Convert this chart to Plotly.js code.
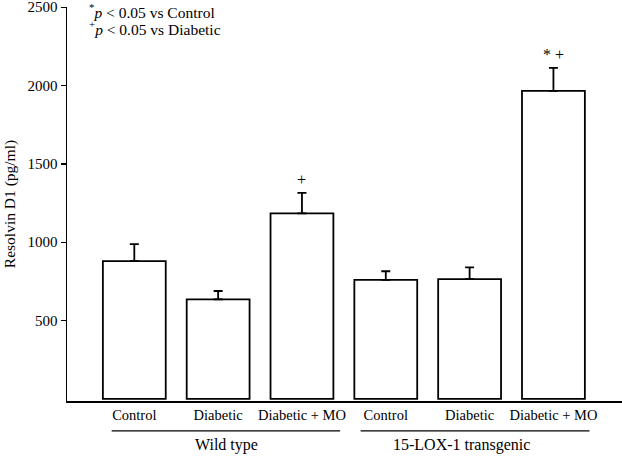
<!DOCTYPE html>
<html>
<head>
<meta charset="utf-8">
<script src="https://cdn.plot.ly/plotly-3.0.1.min.js"></script>
<style>html,body{margin:0;padding:0;background:#fff;}#chart{width:622px;height:456px;}</style>
</head>
<body>
<div id="chart"></div>
<script>
// Data
const barIds = ["wt_control", "wt_diabetic", "wt_diabetic_mo", "tg_control", "tg_diabetic", "tg_diabetic_mo"];
const tickLabels = ["Control", "Diabetic", "Diabetic + MO", "Control", "Diabetic", "Diabetic + MO"];
const means = [880, 636, 1184, 760, 765, 1966];
const errors = [108, 53, 131, 55, 75, 147];
const sigMarks = ["", "", "+", "", "", "* +"];
const groupNames = ["Wild type", "15-LOX-1 transgenic"];
const legendLines = ["<sup>*</sup><i>p</i> &lt; 0.05 vs Control", "<sup>+</sup><i>p</i> &lt; 0.05 vs Diabetic"];
const yTicks = [500, 1000, 1500, 2000, 2500];

const FONT = "Liberation Serif, Times New Roman, serif";

const trace = {
  type: "bar",
  x: barIds,
  y: means,
  width: 0.75,
  marker: {color: "#ffffff", line: {color: "#000000", width: 1.8}},
  error_y: {type: "data", symmetric: false, array: errors, arrayminus: errors.map(() => 0),
            visible: true, color: "#000000", thickness: 1.8, width: 4.5},
  hoverinfo: "none"
};

const annotations = [];
barIds.forEach((id, i) => {
  if (sigMarks[i]) {
    annotations.push({
      x: id, y: means[i] + errors[i], xref: "x", yref: "y",
      text: sigMarks[i], showarrow: false, yanchor: "bottom", yshift: 3,
      font: {family: FONT, size: 16, color: "#000"}
    });
  }
});
// group labels
annotations.push({x: 1.1, y: -0.112, xref: "x", yref: "paper", text: groupNames[0], showarrow: false,
  yanchor: "middle", font: {family: FONT, size: 16, color: "#000"}});
annotations.push({x: 3.9, y: -0.112, xref: "x", yref: "paper", text: groupNames[1], showarrow: false,
  yanchor: "middle", font: {family: FONT, size: 16, color: "#000"}});
// significance legend
legendLines.forEach((t, i) => {
  annotations.push({xref: "paper", yref: "paper", x: 0.036, y: 0.99 - i * 0.043, xanchor: "left", yanchor: "middle",
    align: "left", text: t, showarrow: false, font: {family: FONT, size: 15.5, color: "#000"}});
});

const shapes = [
  {type: "line", xref: "x", yref: "paper", x0: -0.27, x1: 2.455, y0: -0.076, y1: -0.076, line: {color: "#000", width: 1.3}},
  {type: "line", xref: "x", yref: "paper", x0: 2.70, x1: 5.43, y0: -0.076, y1: -0.076, line: {color: "#000", width: 1.3}}
];

const layout = {
  width: 622, height: 456,
  margin: {l: 67, r: 0, t: 7, b: 55},
  paper_bgcolor: "#fff", plot_bgcolor: "#fff",
  showlegend: false,
  font: {family: FONT, size: 14, color: "#000"},
  xaxis: {
    type: "category", range: [-0.803, 5.818],
    tickvals: barIds, ticktext: tickLabels,
    showline: true, linecolor: "#000", linewidth: 1.5,
    ticks: "", showgrid: false, zeroline: false,
    tickfont: {family: FONT, size: 14.5, color: "#000"}
  },
  yaxis: {
    range: [-13, 2501], tickvals: yTicks,
    showline: true, linecolor: "#000", linewidth: 1.5,
    ticks: "outside", ticklen: 5, tickwidth: 1.3, tickcolor: "#000",
    ticklabeloverflow: "allow",
    showgrid: false, zeroline: false,
    tickfont: {family: FONT, size: 15, color: "#000"},
    title: {text: "Resolvin D1 (pg/ml)", font: {family: FONT, size: 15.5, color: "#000"}, standoff: 8}
  },
  annotations: annotations,
  shapes: shapes
};

Plotly.newPlot("chart", [trace], layout, {displayModeBar: false, staticPlot: true});
</script>
</body>
</html>
